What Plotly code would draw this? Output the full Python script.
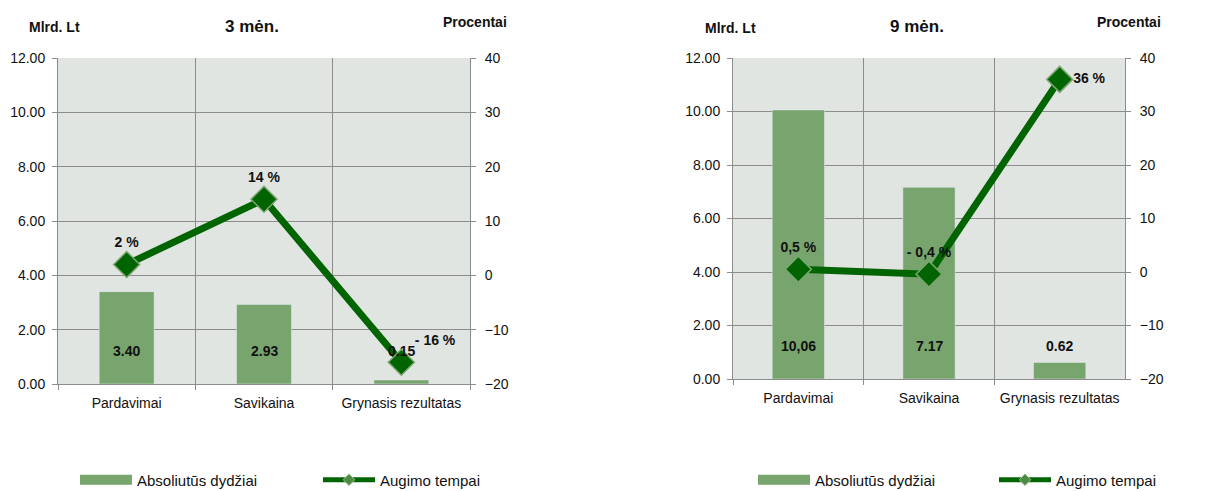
import plotly.graph_objects as go

categories = ["Pardavimai", "Savikaina", "Grynasis rezultatas"]
titles = ["3 mėn.", "9 mėn."]
bars_3m = [3.40, 2.93, 0.15]
bars_9m = [10.06, 7.17, 0.62]
bar_labels_3m = ["3.40", "2.93", "0.15"]
bar_labels_9m = ["10,06", "7.17", "0.62"]
growth_3m = [2, 14, -16]
growth_9m = [0.5, -0.4, 36]
growth_labels_3m = ["2 %", "14 %", "- 16 %"]
growth_labels_9m = ["0,5 %", "- 0,4 %", "36 %"]
left_ticks = [0, 2, 4, 6, 8, 10, 12]
right_ticks = [-20, -10, 0, 10, 20, 30, 40]

FONT = "Liberation Sans, Arial, sans-serif"
BAR_C = "#78A46E"
LINE_C = "#006400"
GRID_C = "#8C8C8C"
BG_C = "#E1E5E1"
TXT = "#111111"

fig = go.Figure()

panels = [
    dict(bars=bars_3m, blabels=bar_labels_3m, growth=growth_3m, glabels=growth_labels_3m,
         gpos=["top center", "top center", "top right"], xa="x", ya="y", ya2="y2",
         leg="legend", dom=[58/1217, 470/1217], ydom=[1-384/491, 1-58/491]),
    dict(bars=bars_9m, blabels=bar_labels_9m, growth=growth_9m, glabels=growth_labels_9m,
         gpos=["top center", "top center", "middle right"], xa="x2", ya="y3", ya2="y4",
         leg="legend2", dom=[733/1217, 1125/1217], ydom=[1-379/491, 1-58/491]),
]

for i, p in enumerate(panels):
    fig.add_trace(go.Bar(
        x=categories, y=p["bars"], name="Absoliutūs dydžiai", marker_color=BAR_C,
        width=0.4, xaxis=p["xa"], yaxis=p["ya"], showlegend=False, hoverinfo="skip"))
    fig.add_trace(go.Scatter(
        x=categories, y=p["growth"], name="Augimo tempai", mode="lines+markers+text",
        line=dict(color=LINE_C, width=7),
        marker=dict(symbol="diamond", size=20, color=LINE_C, line=dict(color="#7BA56F", width=1.5)),
        text=p["glabels"], textposition=p["gpos"],
        textfont=dict(family=FONT, size=14, color=TXT, weight="bold"),
        xaxis=p["xa"], yaxis=p["ya2"], showlegend=False, cliponaxis=False))
    # legend entries (legend swatches only)
    fig.add_trace(go.Scatter(
        x=[None], y=[None], name="Absoliutūs dydžiai", mode="lines",
        line=dict(color=BAR_C, width=10), xaxis=p["xa"], yaxis=p["ya"], legend=p["leg"]))
    fig.add_trace(go.Scatter(
        x=[None], y=[None], name="Augimo tempai", mode="lines+markers",
        line=dict(color=LINE_C, width=5),
        marker=dict(symbol="diamond", size=9, color="#4E8A45", line=dict(color="#9BBF90", width=1)),
        xaxis=p["xa"], yaxis=p["ya2"], legend=p["leg"]))
    for c, lab in zip(categories, p["blabels"]):
        fig.add_annotation(x=c, y=0, xref=p["xa"], yref=p["ya"], text=lab, showarrow=False,
                           yshift=33, yanchor="middle",
                           font=dict(family=FONT, size=14, color=TXT, weight="bold"))

def xaxis(dom, anchor):
    return dict(domain=dom, anchor=anchor, type="category", tickson="boundaries",
                showgrid=True, gridcolor=GRID_C, gridwidth=1, showline=True, linecolor=GRID_C,
                ticks="outside", ticklen=5, tickcolor=GRID_C, range=[-0.5, 2.5],
                tickangle=0, automargin=False, ticklabelstandoff=6,
                tickfont=dict(family=FONT, size=14, color=TXT), zeroline=False)

def yleft(dom, anchor):
    return dict(domain=dom, anchor=anchor, range=[0, 12], tickvals=left_ticks, tickformat=".2f",
                showgrid=True, gridcolor=GRID_C, showline=True, linecolor=GRID_C,
                ticks="outside", ticklen=5, tickcolor=GRID_C, zeroline=False, automargin=False,
                ticklabelstandoff=4,
                tickfont=dict(family=FONT, size=14, color=TXT))

def yright(dom, anchor, over):
    return dict(domain=dom, anchor=anchor, overlaying=over, side="right", range=[-20, 40],
                tickvals=right_ticks, showgrid=False, showline=True, linecolor=GRID_C,
                ticks="outside", ticklen=5, tickcolor=GRID_C, zeroline=False, automargin=False,
                ticklabelstandoff=6,
                tickfont=dict(family=FONT, size=14, color=TXT))

fig.update_layout(
    width=1217, height=491, margin=dict(l=0, r=0, t=0, b=0, autoexpand=False),
    paper_bgcolor="white", plot_bgcolor=BG_C, showlegend=True,
    xaxis=xaxis(panels[0]["dom"], "y"),
    yaxis=yleft(panels[0]["ydom"], "x"),
    yaxis2=yright(panels[0]["ydom"], "x", "y"),
    xaxis2=xaxis(panels[1]["dom"], "y3"),
    yaxis3=yleft(panels[1]["ydom"], "x2"),
    yaxis4=yright(panels[1]["ydom"], "x2", "y3"),
    legend=dict(orientation="h", x=75/1217, y=1-480/491, xanchor="left", yanchor="middle",
                entrywidth=176, itemwidth=52, bgcolor="rgba(0,0,0,0)", traceorder="normal",
                font=dict(family=FONT, size=15, color=TXT)),
    legend2=dict(orientation="h", x=753/1217, y=1-480/491, xanchor="left", yanchor="middle",
                 entrywidth=174, itemwidth=52, bgcolor="rgba(0,0,0,0)", traceorder="normal",
                 font=dict(family=FONT, size=15, color=TXT)),
)

# Panel headings
heads = [
    (55, "Mlrd. Lt", 14, 27), (252, titles[0], 17, 27), (475, "Procentai", 14, 22),
    (730, "Mlrd. Lt", 14, 28), (917, titles[1], 17, 27), (1129, "Procentai", 14, 22),
]
for xp, t, s, yp in heads:
    fig.add_annotation(x=xp/1217, y=1-yp/491, xref="paper", yref="paper",
                       text=t, showarrow=False, xanchor="center", yanchor="middle",
                       font=dict(family=FONT, size=s, color=TXT, weight="bold"))

fig.write_html("out.html", config={"displayModeBar": False},
               post_script="document.body.style.margin='0';document.body.style.overflow='hidden';")
